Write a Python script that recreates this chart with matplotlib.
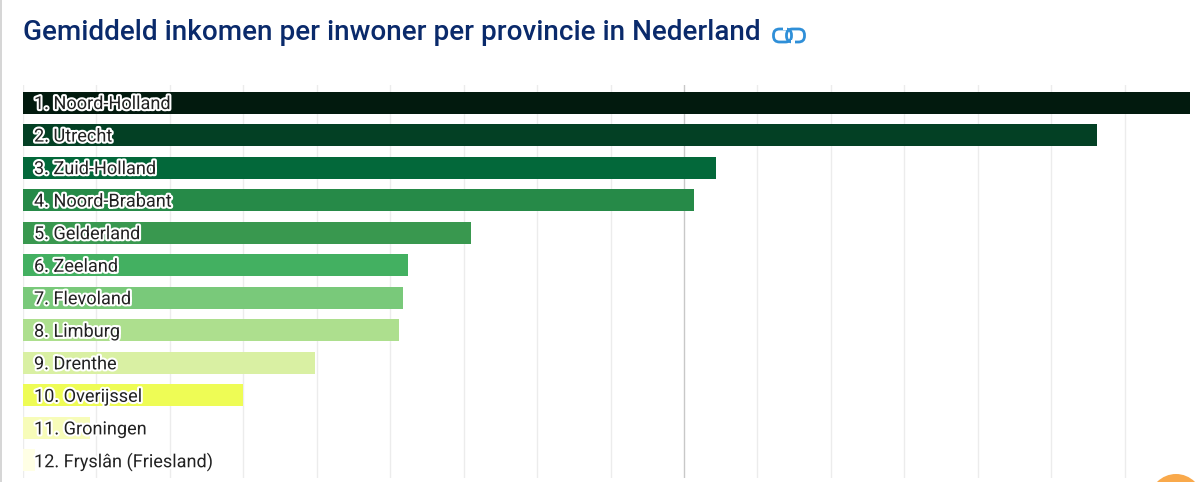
import matplotlib
matplotlib.use("Agg")
import matplotlib.pyplot as plt
import matplotlib.patheffects as pe
from matplotlib.patches import FancyBboxPatch, Circle, Rectangle

W, H = 1200, 482
provinces = ["Noord-Holland", "Utrecht", "Zuid-Holland", "Noord-Brabant", "Gelderland", "Zeeland",
             "Flevoland", "Limburg", "Drenthe", "Overijssel", "Groningen", "Fryslân (Friesland)"]
# values in units of one gridline step (axis has no printed numbers)
values = [15.89, 14.62, 9.43, 9.13, 6.10, 5.245, 5.18, 5.12, 3.97, 2.99, 0.906, 0.157]
colors = ["#021a0e", "#034024", "#03683a", "#268a48", "#39984f", "#43b061",
          "#79c97a", "#addf8e", "#d9f0a3", "#eefc55", "#f7fcb9", "#ffffe5"]
grid_steps = list(range(0, 16))
title = "Gemiddeld inkomen per inwoner per provincie in Nederland"

fig = plt.figure(figsize=(W / 100, H / 100), dpi=100, facecolor="white")
ax = fig.add_axes([23 / W, 1 - 478 / H, (1190 - 23) / W, (478 - 85) / H])
ax.set_xlim(0, 15.89)
ax.set_ylim(11.54, -0.54)
ax.axis("off")
for s in grid_steps:
    ax.axvline(s, color="#c8c8c8" if s == 9 else "#ececec", lw=1.0, zorder=1)
ypos = list(range(len(values)))
ax.barh(ypos, values, height=0.68, color=colors, zorder=2)
for i, name in zip(ypos, provinces):
    ax.annotate(f"{i + 1}. {name}", xy=(0, i), xytext=(11, -1.5), textcoords="offset pixels",
                va="center", ha="left", fontsize=13.05, family="Roboto", color="#222222", zorder=4,
                path_effects=[pe.withStroke(linewidth=3, foreground="white")])

fig.text(23 / W, 1 - 32 / H, title, fontsize=20.1, family="Roboto", fontweight="medium",
         color="#0a2a6b", va="center", ha="left")

# page chrome: left border, link icon, orange button
ov = fig.add_axes([0, 0, 1, 1], facecolor="none")
ov.set_xlim(0, W)
ov.set_ylim(H, 0)
ov.axis("off")
ov.add_patch(Rectangle((0, 0), 2, H, color="#d6d6d6", lw=0))
for x0 in [777, 790]:
    ov.add_patch(FancyBboxPatch((x0, 32.5), 11, 6, boxstyle="round,pad=3.5,rounding_size=6",
                                fc="none", ec="#2f8fd8", lw=2))
ov.add_patch(Rectangle((783, 25), 4, 5, color="white", lw=0))
ov.add_patch(Rectangle((785, 26), 1, 1, color="white", lw=0))
ov.add_patch(Rectangle((790.5, 40), 4, 5, color="white", lw=0))
ov.add_patch(Circle((1176, 500.6), 26.6, color="#f9a94b", lw=0))

fig.savefig("out.png", dpi=100)
